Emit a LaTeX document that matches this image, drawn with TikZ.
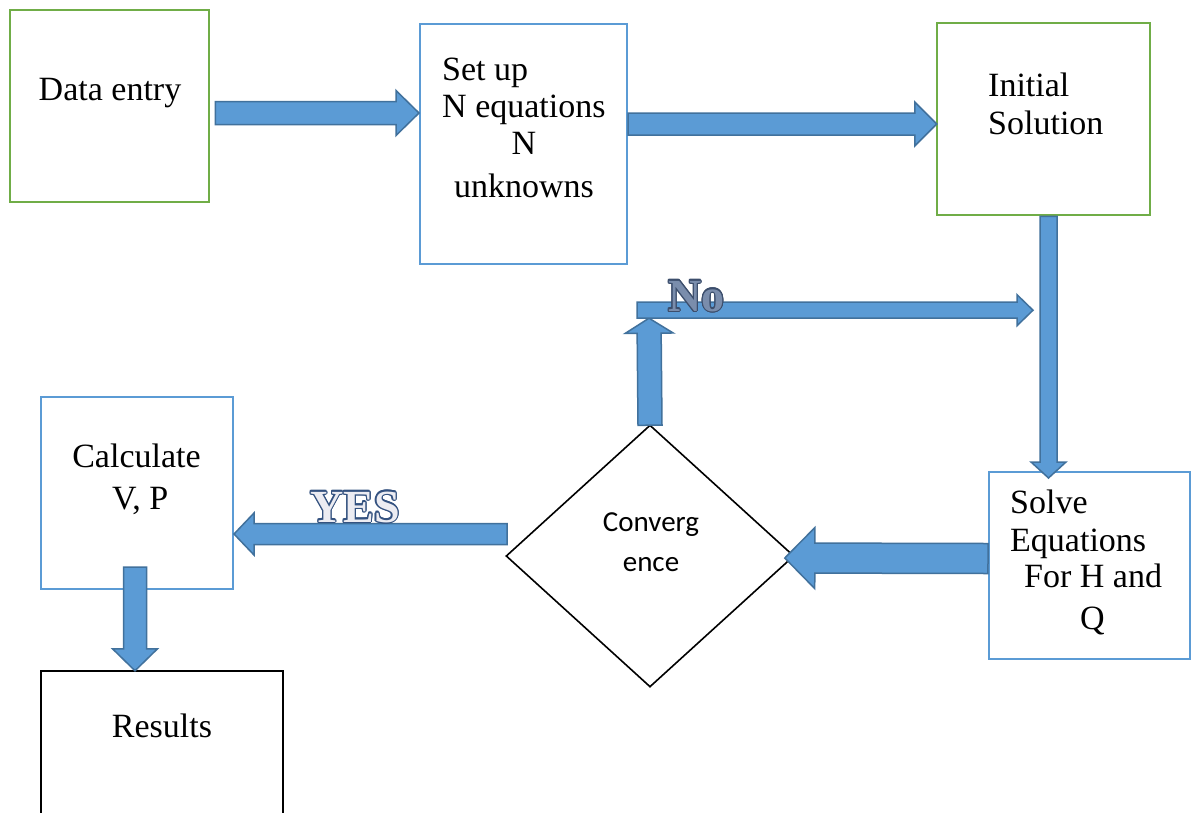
\documentclass[tikz,border=0pt]{standalone}
\usepackage{fontspec}
\setmainfont{Liberation Serif}
\newfontfamily\calibrifont{Carlito}
\usepackage{contour}
\contourlength{1.1pt}
\usetikzlibrary{calc,shapes.geometric}
\definecolor{arrfill}{HTML}{5B9BD5}
\definecolor{arrline}{HTML}{41719C}
\definecolor{boxblue}{HTML}{5B9BD5}
\definecolor{boxgreen}{HTML}{70AD47}
\definecolor{nofill}{RGB}{122,141,172}
\definecolor{noline}{RGB}{60,78,108}
\definecolor{yesfill}{RGB}{236,236,242}
\definecolor{yesline}{RGB}{52,82,128}
% block arrow: from #1 to #2, shaft half width #3, head half width #4, head length #5
\newcommand{\blockarr}[5]{%
  \coordinate (bh) at ($(#2)!#5!(#1)$);
  \draw[blockarrow] ($(#1)!#3!90:(#2)$) -- ($(bh)!#3!90:(#2)$) -- ($(bh)!#4!90:(#2)$)
    -- (#2) -- ($(bh)!#4!-90:(#2)$) -- ($(bh)!#3!-90:(#2)$) -- ($(#1)!#3!-90:(#2)$) -- cycle;
}
\begin{document}
\begin{tikzpicture}[x=1pt,y=-1pt,
  greenbox/.style={draw=boxgreen, line width=2.5pt, inner sep=0pt},
  bluebox/.style={draw=boxblue, line width=2pt, inner sep=0pt},
  blackbox/.style={draw=black, line width=2.5pt, inner sep=0pt},
  decision/.style={diamond, draw=black, line width=1.6pt, inner sep=0pt, minimum width=288pt, minimum height=262pt},
  blockarrow/.style={fill=arrfill, draw=arrline, line width=1.5pt, line join=miter},
  txt/.style={inner sep=0pt, font=\fontsize{34}{38}\selectfont},
  ctxt/.style={inner sep=0pt, font=\calibrifont\fontsize{29}{34}\selectfont},
  lbl/.style={inner sep=0pt, font=\bfseries\fontsize{46}{50}\selectfont}]
\useasboundingbox (0,0) rectangle (1191,812);
\clip (0,0) rectangle (1191,812);
\fill[white] (0,0) rectangle (1191,812);

% boxes
\node[greenbox, minimum width=199pt, minimum height=192pt] (de) at (109.5,106) {};
\node[bluebox, minimum width=207pt, minimum height=240pt] (su) at (523.5,144) {};
\node[greenbox, minimum width=213pt, minimum height=192pt] (is) at (1043.5,119) {};
\node[bluebox, minimum width=201pt, minimum height=187pt] (se) at (1089.5,565.5) {};
\node[bluebox, minimum width=192pt, minimum height=192pt] (cv) at (137,493) {};
\node[blackbox, minimum width=242pt, minimum height=170pt] (re) at (162,756) {};
\node[decision] (dg) at (650,556) {};

% texts
\node[txt, anchor=base] (t1) at (110,100) {Data entry};
\node[txt, anchor=base west] (t2) at (442,80) {Set up};
\node[txt, anchor=base west] (t3) at (442,117) {N equations};
\node[txt, anchor=base] (t4) at (524,154) {N};
\node[txt, anchor=base] (t5) at (524,197) {unknowns};
\node[txt, anchor=base west] (t6) at (988,96) {Initial};
\node[txt, anchor=base west] (t7) at (988,134) {Solution};
\node[txt, anchor=base west] (t8) at (1010,513) {Solve};
\node[txt, anchor=base west] (t9) at (1010,551) {Equations};
\node[txt, anchor=base west] (t10) at (1024,587) {For H and};
\node[txt, anchor=base west] (t11) at (1080,629) {Q};
\node[txt, anchor=base] (t12) at (136.5,467) {Calculate};
\node[txt, anchor=base west] (t13) at (112,509) {V, P};
\node[txt, anchor=base] (t14) at (162,737) {Results};
\node[ctxt, anchor=base] (t15) at (651,531) {Converg};
\node[ctxt, anchor=base] (t16) at (651,571) {ence};

% arrows
\coordinate (a1s) at ($(de.east)+(5,7)$);
\coordinate (a1e) at (su.west |- a1s);
\blockarr{a1s}{a1e}{11.5pt}{22.5pt}{23pt}

\coordinate (a2s) at ($(su.east)+(0,-20)$);
\coordinate (a2e) at ($(is.west |- a2s)+(1,0)$);
\blockarr{a2s}{a2e}{11pt}{22pt}{22pt}

\coordinate (a3s) at ($(is.south)+(5,0)$);
\coordinate (a3e) at ($(a3s |- se.north)+(0,7)$);
\blockarr{a3s}{a3e}{8.5pt}{17.5pt}{16pt}

\coordinate (a4s) at ($(se.west)+(0,-7)$);
\coordinate (a4e) at ($(dg.east)+(-10,2)$);
\blockarr{a4s}{a4e}{15pt}{30.5pt}{30pt}

\coordinate (a5s) at ($(dg.west)+(2,-22)$);
\coordinate (a5e) at (cv.east |- a5s);
\blockarr{a5s}{a5e}{10.5pt}{21pt}{20pt}

\coordinate (a6s) at ($(dg.north)+(0,1)$);
\coordinate (nup) at ($(dg.north)+(-1,-106)$);
\blockarr{a6s}{nup}{12pt}{24pt}{15pt}

\coordinate (nl) at ($(nup)+(-12,-8)$);
\coordinate (nr) at ($(nl -| is.south)+(-10.5,0)$);
\blockarr{nl}{nr}{8pt}{15.5pt}{16pt}

\coordinate (a8s) at ($(cv.south)+(-2,-23)$);
\coordinate (a8e) at ($(a8s |- re.north)+(0,1)$);
\blockarr{a8s}{a8e}{11.5pt}{22.5pt}{22pt}

% labels
\node[lbl, anchor=base west, text=nofill] (no) at (668,311) {\contour{noline}{No}};
\node[lbl, anchor=base west, text=yesfill] (yes) at (310,522) {\contour{yesline}{YES}};
\end{tikzpicture}
\end{document}
